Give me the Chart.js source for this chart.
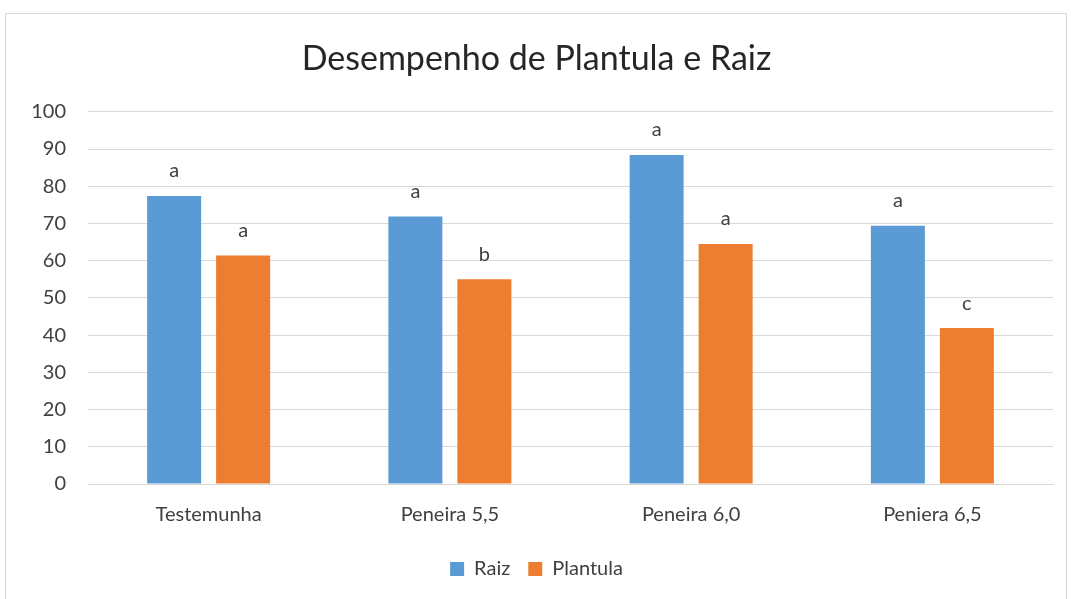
<!DOCTYPE html>
<html><head><meta charset="utf-8">
<script src="https://cdn.jsdelivr.net/npm/chart.js@4"></script>
<style>
html,body{margin:0;padding:0;background:#fff;overflow:hidden}
#wrap{position:relative;width:1071px;height:599px}
#frame{position:absolute;left:5px;top:13px;width:1062px;height:600px;border:1px solid #d9d9d9;box-sizing:border-box;pointer-events:none}
canvas{position:absolute;left:0;top:0}
</style></head>
<body><div id="wrap"><canvas id="c" width="1071" height="599"></canvas><div id="frame"></div></div>
<script>
const categories = ["Testemunha","Peneira 5,5","Peneira 6,0","Peniera 6,5"];
const raiz = [77.4, 71.9, 88.4, 69.4];
const plantula = [61.4, 55.0, 64.5, 41.9];
const raizLetters = ["a","a","a","a"];
const plantulaLetters = ["a","b","a","c"];
const yTicks = [0,10,20,30,40,50,60,70,80,90,100];

const FONT = "Lato, 'Open Sans', sans-serif";
const letterPlugin = {
  id:'letters',
  afterDatasetsDraw(chart){
    const ctx = chart.ctx;
    const sets = [raizLetters, plantulaLetters];
    ctx.save();
    ctx.font = "20px " + FONT;
    ctx.fillStyle = "#404040";
    ctx.textAlign = "center";
    ctx.textBaseline = "middle";
    chart.data.datasets.forEach((ds,i)=>{
      chart.getDatasetMeta(i).data.forEach((bar,j)=>{
        ctx.fillText(sets[i][j], bar.x, bar.y - 25);
      });
    });
    ctx.restore();
  }
};

new Chart(document.getElementById('c'), {
  type:'bar',
  data:{
    labels:categories,
    datasets:[
      {label:'Raiz', data:raiz, backgroundColor:'#5B9BD5', categoryPercentage:0.572, barPercentage:0.783},
      {label:'Plantula', data:plantula, backgroundColor:'#ED7D31', categoryPercentage:0.572, barPercentage:0.783}
    ]
  },
  options:{
    responsive:false, animation:false,
    layout:{padding:{left:20,right:18,top:22,bottom:10}},
    plugins:{
      title:{display:true,text:'Desempenho de Plantula e Raiz',color:'#262626',
        font:{family:FONT,size:34,weight:'normal'},padding:{top:17,bottom:32}},
      legend:{position:'bottom',labels:{color:'#404040',font:{family:FONT,size:20},boxWidth:14,boxHeight:14,padding:18}},
      tooltip:{enabled:false}
    },
    scales:{
      x:{grid:{display:false},border:{color:'#d9d9d9',width:1},
        ticks:{color:'#404040',font:{family:FONT,size:20},padding:11},
        afterFit(s){s.height=57;}},
      y:{min:0,max:100,afterBuildTicks(s){s.ticks=yTicks.map(v=>({value:v}));},
        grid:{color:'#d9d9d9',drawTicks:false},border:{display:false},
        ticks:{color:'#404040',font:{family:FONT,size:20},padding:22},
        afterFit(s){s.width=68;}}
    }
  },
  plugins:[letterPlugin]
});
</script></body></html>
